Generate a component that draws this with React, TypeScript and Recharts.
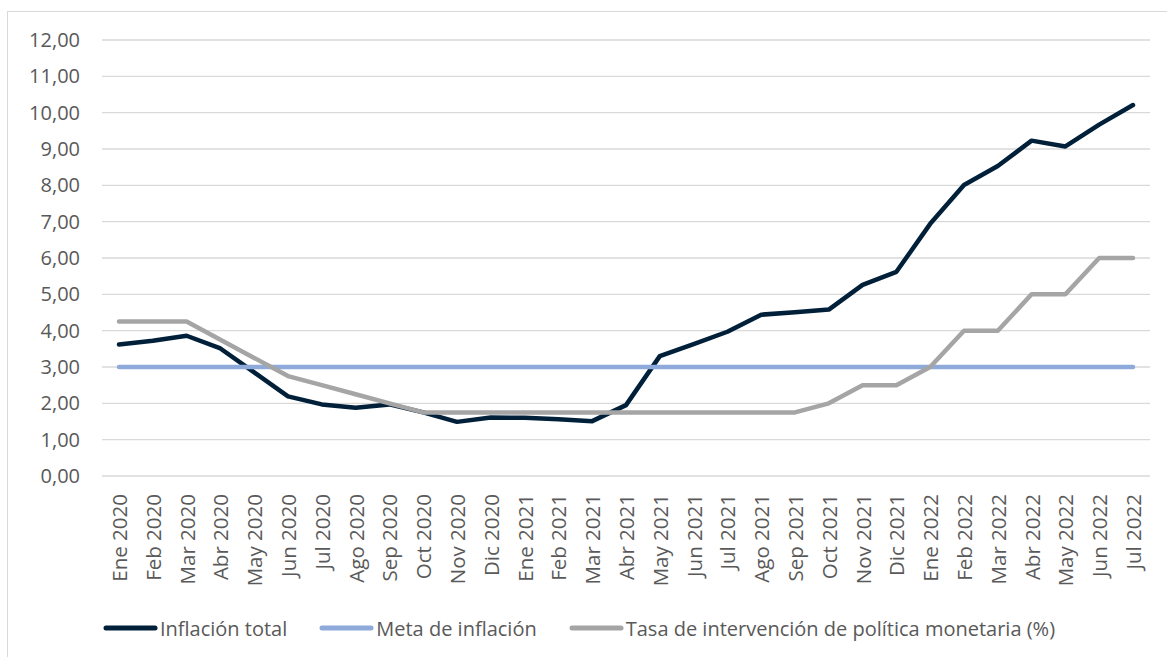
import { LineChart, Line, XAxis, YAxis, CartesianGrid, Legend } from "recharts";

const months = [
  "Ene 2020", "Feb 2020", "Mar 2020", "Abr 2020", "May 2020", "Jun 2020", "Jul 2020", "Ago 2020",
  "Sep 2020", "Oct 2020", "Nov 2020", "Dic 2020", "Ene 2021", "Feb 2021", "Mar 2021", "Abr 2021",
  "May 2021", "Jun 2021", "Jul 2021", "Ago 2021", "Sep 2021", "Oct 2021", "Nov 2021", "Dic 2021",
  "Ene 2022", "Feb 2022", "Mar 2022", "Abr 2022", "May 2022", "Jun 2022", "Jul 2022",
];

const inflacionTotal = [
  3.62, 3.72, 3.86, 3.51, 2.85, 2.19, 1.97, 1.88, 1.97, 1.75, 1.49, 1.61,
  1.6, 1.56, 1.51, 1.95, 3.3, 3.63, 3.97, 4.44, 4.51, 4.58, 5.26, 5.62,
  6.94, 8.01, 8.53, 9.23, 9.07, 9.67, 10.21,
];

const metaInflacion = [
  3, 3, 3, 3, 3, 3, 3, 3, 3, 3, 3, 3, 3, 3, 3, 3, 3, 3, 3, 3, 3, 3, 3, 3, 3, 3, 3, 3, 3, 3, 3,
];

const tasaIntervencion = [
  4.25, 4.25, 4.25, 3.75, 3.25, 2.75, 2.5, 2.25, 2.0, 1.75, 1.75, 1.75,
  1.75, 1.75, 1.75, 1.75, 1.75, 1.75, 1.75, 1.75, 1.75, 2.0, 2.5, 2.5,
  3.0, 4.0, 4.0, 5.0, 5.0, 6.0, 6.0,
];

const yTicks = [0, 1, 2, 3, 4, 5, 6, 7, 8, 9, 10, 11, 12];

const series = [
  { key: "inflacion", name: "Inflación total", color: "#00203a" },
  { key: "meta", name: "Meta de inflación", color: "#8eaadb" },
  { key: "tasa", name: "Tasa de intervención de política monetaria (%)", color: "#a5a5a5" },
];

const data = months.map((m, i) => ({
  month: m,
  inflacion: inflacionTotal[i],
  meta: metaInflacion[i],
  tasa: tasaIntervencion[i],
}));

const FONT = "'Open Sans', 'Noto Sans', sans-serif";
const TEXT = "#595959";

function MonthTick(props: any) {
  const { x, y, payload } = props;
  const ty = y + 16;
  return (
    <text
      x={x}
      y={ty}
      transform={`rotate(-90 ${x} ${ty})`}
      textAnchor="end"
      dominantBaseline="central"
      fill={TEXT}
      fontSize={20.5}
      fontFamily={FONT}
    >
      {payload.value}
    </text>
  );
}

function LegendRow() {
  return (
    <div
      style={{
        height: 30,
        display: "flex",
        justifyContent: "center",
        alignItems: "center",
        paddingRight: 24,
        fontFamily: FONT,
        fontSize: 20,
        color: TEXT,
      }}
    >
      {series.map((s) => (
        <div key={s.key} style={{ display: "flex", alignItems: "center", margin: "0 16px" }}>
          <svg width={55} height={8} style={{ marginRight: 2 }}>
            <line x1={3} y1={4} x2={52} y2={4} stroke={s.color} strokeWidth={5} strokeLinecap="round" />
          </svg>
          <span style={{ whiteSpace: "nowrap" }}>{s.name}</span>
        </div>
      ))}
    </div>
  );
}

export default function App() {
  return (
    <div
      style={{
        position: "absolute",
        left: 7,
        top: 11,
        width: 1159,
        height: 645,
        borderTop: "1px solid #d9d9d9",
        borderLeft: "1px solid #d9d9d9",
        background: "#fff",
      }}
    >
      <LineChart
        width={1159}
        height={645}
        data={data}
        margin={{ top: 28, right: 17, left: 24, bottom: 14 }}
      >
        <CartesianGrid vertical={false} stroke="#d9d9d9" strokeWidth={1.3} />
        <XAxis
          dataKey="month"
          interval={0}
          axisLine={false}
          tickLine={false}
          tickSize={0}
          height={137}
          padding={{ left: 17, right: 17 }}
          tick={<MonthTick />}
        />
        <YAxis
          domain={[0, 12]}
          ticks={yTicks}
          width={70}
          axisLine={false}
          tickLine={false}
          tickSize={0}
          tickMargin={22}
          tickFormatter={(v: number) => v.toFixed(2).replace(".", ",")}
          tick={{ fill: TEXT, fontSize: 20, fontFamily: FONT }}
        />
        <Legend verticalAlign="bottom" height={30} content={() => <LegendRow />} />
        {series.map((s) => (
          <Line
            key={s.key}
            type="linear"
            dataKey={s.key}
            name={s.name}
            stroke={s.color}
            strokeWidth={4.5}
            strokeLinecap="round"
            strokeLinejoin="round"
            dot={false}
            activeDot={false}
            isAnimationActive={false}
          />
        ))}
      </LineChart>
    </div>
  );
}
